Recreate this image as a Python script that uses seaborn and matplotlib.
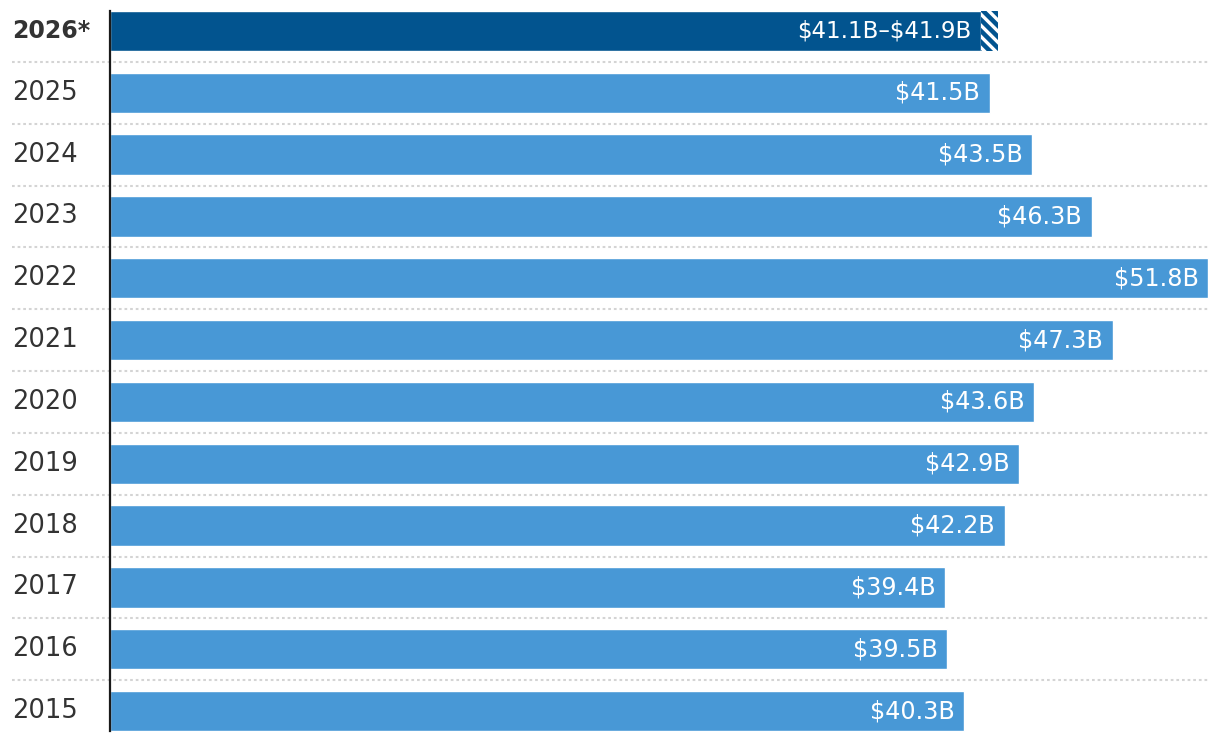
import pandas as pd
import matplotlib
matplotlib.use("Agg")
import matplotlib.pyplot as plt
import seaborn as sns

#chart data, top row first
years = ["2026*", "2025", "2024", "2023", "2022", "2021", "2020", "2019", "2018", "2017", "2016", "2015"]
values = [41.1, 41.5, 43.5, 46.3, 51.8, 47.3, 43.6, 42.9, 42.2, 39.4, 39.5, 40.3]
labels = ["$41.1B\u2013$41.9B", "$41.5B", "$43.5B", "$46.3B", "$51.8B", "$47.3B",
          "$43.6B", "$42.9B", "$42.2B", "$39.4B", "$39.5B", "$40.3B"]
forecast_low = 41.1
forecast_high = 41.9

df = pd.DataFrame({"year": years, "value": values})

sns.set_style("white")
plt.rcParams['font.family'] = ['DejaVu Sans']
plt.rcParams['hatch.linewidth'] = 2.4

dark_blue = "#02548f"
light_blue = "#4898d6"
palette = {y: (dark_blue if i == 0 else light_blue) for i, y in enumerate(years)}

fig = plt.figure(figsize=(12.2, 7.42), dpi=100)
ax = fig.add_axes([110 / 1220, 0, 1110 / 1220, 1])

bar_h = 0.65
sns.barplot(data=df, x="value", y="year", hue="year", palette=palette, order=years,
            orient="h", width=bar_h, legend=False, saturation=1, ax=ax)

#hatched forecast range on the top bar
ax.barh(0, forecast_high - forecast_low, left=forecast_low, height=bar_h,
        color=dark_blue, edgecolor="white", linewidth=0, hatch="\\\\\\")

ax.set_xlim(0, 1110 / 21.2)
ax.set_ylim(len(years) - 0.5, -0.5)

#value labels inside the bar ends
for i, (v, lab) in enumerate(zip(values, labels)):
    ax.text(v - 0.45, i, lab, ha="right", va="center", color="white",
            fontsize=16.5 if i == 0 else 17.2, parse_math=False)

#year labels on the left
ax.set_yticks([])
ax.set_xticks([])
ax.set_xlabel("")
ax.set_ylabel("")
for i, y in enumerate(years):
    ax.text(-98 / 1110, i, y, transform=ax.get_yaxis_transform(), ha="left", va="center",
            fontsize=17 if i == 0 else 18.5, color="#333333",
            fontweight="bold" if i == 0 else "normal")

#dotted separators between rows
for i in range(len(years) - 1):
    ax.plot([-98 / 1110, 1098 / 1110], [i + 0.5, i + 0.5], transform=ax.get_yaxis_transform(),
            color="#d4d4d4", linewidth=1.5, linestyle=(0, (1.3, 1.4)), clip_on=False, zorder=0)

for side in ["top", "right", "bottom"]:
    ax.spines[side].set_visible(False)
ax.spines["left"].set_color("#1a1a1a")
ax.spines["left"].set_linewidth(1.6)
ax.spines["left"].set_bounds(-bar_h / 2, len(years) - 1 + bar_h / 2)
ax.spines["left"].set_zorder(5)

plt.savefig("out.png", dpi=100)
